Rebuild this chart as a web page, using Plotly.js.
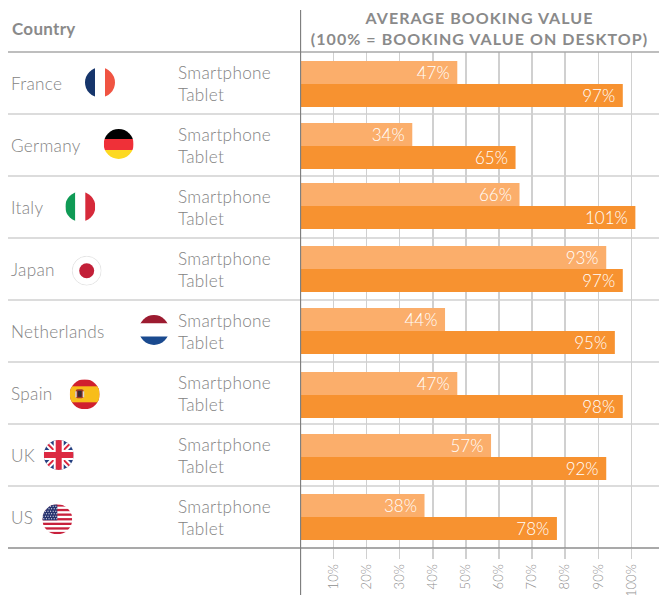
<!DOCTYPE html>
<html><head><meta charset="utf-8">
<script src="https://cdn.plot.ly/plotly-3.0.1.min.js"></script>
<style>
html,body{margin:0;padding:0;background:#fff;overflow:hidden}
.gtitle{letter-spacing:1.05px}
.annotation-text{letter-spacing:.3px}
</style></head><body><div id="chart" style="width:659px;height:595px"></div>
<script>
const countries = ['France','Germany','Italy','Japan','Netherlands','Spain','UK','US'];
const smartphoneValues = [47.4,33.8,66.2,92.4,43.7,47.4,57.6,37.5];
const tabletValues = [97.4,65,101.2,97.4,95,97.4,92.4,77.5];
const smartphoneLabels = [47,34,66,93,44,47,57,38];
const tabletLabels = [97,65,101,97,95,98,92,78];
const xTicks = [10,20,30,40,50,60,70,80,90,100];
const xTickLabels = xTicks.map(v=>v+'%');
const flagCentreX = [100,118.7,80.3,86.7,154,84.7,58.7,57.3];
const flagCentreY = [82.5,144,206.7,270.7,330,394.3,455,519.3];
const rowNudgePx = [1,1,-1,0,0,2,2,0];

const L=300,T=52,W=359,H=496,ROW=62,BAR=23;
const px=v=>(v-L)/W, py=v=>1-(v-T)/H;
const TXT='#838383';
const FONT='Lato, "Open Sans", sans-serif';

const art={
France:'<rect width="10" height="30" fill="#16356b"/><rect x="10" width="10" height="30" fill="#fff"/><rect x="20" width="10" height="30" fill="#f05442"/>',
Germany:'<rect width="30" height="10" fill="#000"/><rect y="10" width="30" height="11" fill="#ef3038"/><rect y="21" width="30" height="9" fill="#fdd922"/>',
Italy:'<rect width="10" height="30" fill="#0f9a55"/><rect x="10" width="10" height="30" fill="#fff"/><rect x="20" width="10" height="30" fill="#d62a3a"/>',
Japan:'<circle cx="15" cy="15" r="14.6" fill="#fff" stroke="#d8d8d8" stroke-width=".7"/><circle cx="15" cy="15" r="7.5" fill="#c21f38"/>',
Netherlands:'<rect width="30" height="8.5" fill="#9c1b30"/><rect y="8.5" width="30" height="13" fill="#fff"/><rect y="21.5" width="30" height="8.5" fill="#1a4a8f"/>',
Spain:'<rect width="30" height="30" fill="#d0202e"/><rect y="7" width="30" height="16" fill="#f8bd1a"/><rect x="6" y="10" width="8" height="9" rx="2" fill="#a33a28"/><rect x="8" y="11.5" width="4" height="6" fill="#3a2a30"/><rect x="5.5" y="12" width="1.5" height="6" fill="#d9d9d9"/><rect x="13" y="12" width="1.5" height="6" fill="#d9d9d9"/>',
UK:'<rect width="30" height="30" fill="#243f80"/><path d="M0 0L30 30M30 0L0 30" stroke="#fff" stroke-width="6"/><path d="M0 0L30 30M30 0L0 30" stroke="#dc2a42" stroke-width="2"/><rect x="10" width="10" height="30" fill="#fff"/><rect y="10" width="30" height="10" fill="#fff"/><rect x="12" width="6" height="30" fill="#dc2a42"/><rect y="12" width="30" height="6" fill="#dc2a42"/>',
US:'<rect width="30" height="30" fill="#fff"/><g fill="#c8203c"><rect width="30" height="2.3"/><rect y="4.6" width="30" height="2.3"/><rect y="9.2" width="30" height="2.3"/><rect y="13.8" width="30" height="2.3"/><rect y="18.4" width="30" height="2.3"/><rect y="23" width="30" height="2.3"/><rect y="27.6" width="30" height="2.4"/></g><rect width="15" height="16" fill="#27336f"/><g fill="none" stroke="#fff" stroke-width="1" stroke-dasharray="1 1.6"><path d="M0 2H15M1 4.5H15M0 7H15M1 9.5H15M0 12H15M1 14.5H15"/></g>'
};
function flag(name){
  const s='<svg xmlns="http://www.w3.org/2000/svg" width="120" height="120" viewBox="0 0 30 30"><defs><clipPath id="c"><circle cx="15" cy="15" r="15"/></clipPath></defs><g clip-path="url(#c)">'+art[name]+'</g></svg>';
  return 'data:image/svg+xml;base64,'+btoa(s);
}
const rows=countries.map((_,i)=>i);
const images=countries.map((c,i)=>({source:flag(c),xref:'paper',yref:'paper',x:px(flagCentreX[i]),y:py(flagCentreY[i]),
  sizex:30/W,sizey:30/H,xanchor:'center',yanchor:'middle',sizing:'stretch',layer:'above'}));

const labelFont={family:FONT,size:17.2,color:TXT,weight:300};
const annotations=[];
countries.forEach((c,i)=>{
  annotations.push({xref:'paper',yref:'y',x:px(9),y:i+0.008,text:c,showarrow:false,xanchor:'left',yanchor:'middle',font:labelFont});
  annotations.push({xref:'paper',yref:'y',x:px(176),y:i-0.165,text:'Smartphone',showarrow:false,xanchor:'left',yanchor:'middle',font:labelFont});
  annotations.push({xref:'paper',yref:'y',x:px(176),y:i+0.18,text:'Tablet',showarrow:false,xanchor:'left',yanchor:'middle',font:labelFont});
});
annotations.push({xref:'paper',yref:'paper',x:px(10),y:py(29),text:'<b>Country</b>',showarrow:false,xanchor:'left',yanchor:'middle',font:{family:FONT,size:17,color:'#8a8a8a'}});

const shapes=[];
for(let i=1;i<8;i++) shapes.push({type:'line',layer:'below',xref:'paper',yref:'y',x0:px(8),x1:1,y0:i-0.5,y1:i-0.5,line:{color:'#d0d0d0',width:1.5}});
[52,548].forEach(v=>shapes.push({type:'line',layer:'above',xref:'paper',yref:'paper',x0:px(8),x1:1,y0:py(v),y1:py(v),line:{color:v==52?'#a8a8a8':'#8c8c8c',width:1.5}}));
shapes.push({type:'line',layer:'above',xref:'x',yref:'paper',x0:0,x1:0,y0:py(10),y1:py(595),line:{color:'#7f7f7f',width:1.5}});

const pct=a=>a.map(v=>v+'%\u00a0');
const nudge=rowNudgePx.map(v=>v/ROW);
const traces=[
 {type:'bar',orientation:'h',name:'Smartphone',y:rows,x:smartphoneValues,text:pct(smartphoneLabels),marker:{color:'#fbae6b'},width:BAR/ROW,offset:nudge.map(v=>v-BAR/ROW)},
 {type:'bar',orientation:'h',name:'Tablet',y:rows,x:tabletValues,text:pct(tabletLabels),marker:{color:'#f79230'},width:BAR/ROW,offset:nudge}
].map(t=>Object.assign(t,{textposition:'inside',insidetextanchor:'end',textangle:0,constraintext:'none',cliponaxis:false,
  insidetextfont:{family:FONT,size:17,color:'#fff',weight:300},hoverinfo:'skip'}));

const layout={
 width:659,height:595,margin:{l:L,r:0,t:T,b:47,pad:0},paper_bgcolor:'#fff',plot_bgcolor:'#fff',
 showlegend:false,barmode:'overlay',
 title:{text:'AVERAGE BOOKING VALUE<br>(100% = BOOKING VALUE ON DESKTOP)',x:0.5,xref:'paper',xanchor:'center',y:0.96,yref:'container',yanchor:'top',
   font:{family:FONT,size:16,color:'#8a8a8a',weight:700}},
 xaxis:{range:[-0.12,W/3.31-0.12],tickvals:xTicks,ticktext:xTickLabels,tickangle:-90,ticks:'outside',ticklen:10,tickwidth:1.5,tickcolor:'#d0d0d0',
   showgrid:true,gridcolor:'#d0d0d0',gridwidth:1.5,zeroline:false,showline:false,automargin:false,
   tickfont:{family:FONT,size:13,color:'#8f8f8f',weight:300},fixedrange:true},
 yaxis:{range:[7.5,-0.5],showgrid:false,zeroline:false,showticklabels:false,ticks:'',automargin:false,fixedrange:true},
 images,annotations,shapes
};
Plotly.newPlot('chart',traces,layout,{displayModeBar:false,staticPlot:true});
</script></body></html>
